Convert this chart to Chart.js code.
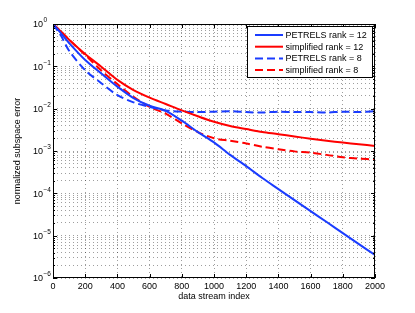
<!DOCTYPE html>
<html><head><meta charset="utf-8">
<script src="https://cdn.jsdelivr.net/npm/chart.js@4/dist/chart.umd.min.js"></script>
<style>html,body{margin:0;padding:0;background:#fff;overflow:hidden}#wrap{width:415px;height:313px;position:relative}</style>
</head><body><div id="wrap"><canvas id="c" width="415" height="313"></canvas></div>
<script>
// ---- data ----
const dataIndex = [0,50,100,200,300,400,500,600,700,800,900,1000,1100,1200,1300,1400,1500,1600,1700,1800,1900,2000];
const petrelsRank12 = [1,0.60,0.355,0.141,0.0676,0.0331,0.0178,0.0117,8.9e-3,5.2e-3,2.8e-3,1.6e-3,8.1e-4,4.4e-4,2.3e-4,1.26e-4,6.9e-5,3.8e-5,2.1e-5,1.15e-5,6.3e-6,3.5e-6];
const simplifiedRank12 = [1,0.66,0.427,0.195,0.0977,0.0479,0.0275,0.0182,0.0129,9.1e-3,6.6e-3,4.9e-3,3.9e-3,3.3e-3,2.8e-3,2.5e-3,2.2e-3,1.95e-3,1.74e-3,1.58e-3,1.45e-3,1.32e-3];
const petrelsRank8 = [1,0.525,0.234,0.081,0.040,0.0209,0.0141,0.011,9.1e-3,8.5e-3,8.3e-3,8.5e-3,8.7e-3,8.3e-3,8.1e-3,8.5e-3,8.3e-3,8.3e-3,8.1e-3,8.5e-3,8.3e-3,8.7e-3];
const simplifiedRank8 = [1,0.66,0.427,0.186,0.0794,0.038,0.019,0.011,7.6e-3,4.5e-3,2.8e-3,2.0e-3,1.74e-3,1.51e-3,1.26e-3,1.10e-3,9.8e-4,9.1e-4,8.1e-4,7.1e-4,6.6e-4,6.3e-4];
const seriesLabels = ['PETRELS rank = 12','simplified rank = 12','PETRELS rank = 8','simplified rank = 8'];
const xTickValues = [0,200,400,600,800,1000,1200,1400,1600,1800,2000];
const yDecadeExponents = [-6,-5,-4,-3,-2,-1,0];
const xTitle = 'data stream index';
const yTitle = 'normalized subspace error';

const FONT = '"Liberation Sans", Arial, Helvetica, sans-serif';
const BLUE = '#1a3cff', RED = '#ff0000';
const styles = [
  {color: BLUE, dash: []},
  {color: RED, dash: []},
  {color: BLUE, dash: [8,4]},
  {color: RED, dash: [8,4]}
];
const seriesValues = [petrelsRank12, simplifiedRank12, petrelsRank8, simplifiedRank8];

const datasets = seriesValues.map((vals, i) => ({
  label: seriesLabels[i],
  data: dataIndex.map((x, j) => ({x: x, y: vals[j]})),
  borderColor: styles[i].color,
  borderDash: styles[i].dash,
  borderWidth: 2,
  pointRadius: 0,
  tension: 0.3,
  fill: false
}));

// y gridline values: 1..9 x 10^d for each decade
const yGridValues = [];
yDecadeExponents.forEach(d => {
  if (d === 0) { yGridValues.push(1); return; }
  for (let m = 1; m <= 9; m++) yGridValues.push(parseFloat((m * Math.pow(10, d)).toPrecision(3)));
});

const decor = {
  id: 'decor',
  afterDraw(chart) {
    const ctx = chart.ctx, a = chart.chartArea;
    const xs = chart.scales.x, ys = chart.scales.y;
    ctx.save();
    // box
    ctx.strokeStyle = '#000'; ctx.lineWidth = 1; ctx.setLineDash([]);
    ctx.strokeRect(Math.round(a.left)+0.5, Math.round(a.top)+0.5, Math.round(a.right-a.left)-1, Math.round(a.bottom-a.top)-1);
    // inward ticks
    ctx.beginPath();
    xTickValues.forEach(v => {
      const px = Math.round(xs.getPixelForValue(v)) + 0.5;
      ctx.moveTo(px, a.bottom); ctx.lineTo(px, a.bottom - 4);
      ctx.moveTo(px, a.top); ctx.lineTo(px, a.top + 4);
    });
    yGridValues.forEach(v => {
      const py = Math.round(ys.getPixelForValue(v)) + 0.5;
      const major = Math.abs(Math.log10(v) - Math.round(Math.log10(v))) < 1e-6;
      const len = major ? 4 : 2;
      ctx.moveTo(a.left, py); ctx.lineTo(a.left + len, py);
      ctx.moveTo(a.right, py); ctx.lineTo(a.right - len, py);
    });
    ctx.stroke();
    // y tick labels 10^d
    ctx.fillStyle = '#000';
    yDecadeExponents.forEach(d => {
      const py = ys.getPixelForValue(Math.pow(10, d));
      ctx.font = '9px ' + FONT; ctx.textAlign = 'right'; ctx.textBaseline = 'middle';
      ctx.fillText('10', 43, py + 1);
      ctx.font = '6.5px ' + FONT; ctx.textAlign = 'left';
      ctx.fillText(d === 0 ? '0' : '\u2212' + Math.abs(d), 43.5, py - 3.5);
    });
    // axis titles
    ctx.font = '9px ' + FONT; ctx.textAlign = 'center'; ctx.textBaseline = 'middle';
    ctx.fillText(xTitle, (a.left + a.right) / 2, 297);
    ctx.save();
    ctx.translate(18, (a.top + a.bottom) / 2);
    ctx.rotate(-Math.PI / 2);
    ctx.fillText(yTitle, 0, 0);
    ctx.restore();
    // legend
    const lx = 247, ly = 26, lw = 125, lh = 51;
    ctx.fillStyle = '#fff'; ctx.fillRect(lx, ly, lw, lh);
    ctx.strokeStyle = '#000'; ctx.lineWidth = 1; ctx.strokeRect(lx + 0.5, ly + 0.5, lw, lh);
    seriesLabels.forEach((lab, i) => {
      const y = 35 + i * 11.7;
      ctx.strokeStyle = styles[i].color; ctx.lineWidth = 2; ctx.setLineDash(styles[i].dash);
      ctx.beginPath(); ctx.moveTo(255, y); ctx.lineTo(283, y); ctx.stroke();
      ctx.setLineDash([]);
      ctx.fillStyle = '#000'; ctx.font = '9px ' + FONT; ctx.textAlign = 'left'; ctx.textBaseline = 'middle';
      ctx.fillText(lab, 285.5, y + 0.5);
    });
    ctx.restore();
  }
};

new Chart(document.getElementById('c'), {
  type: 'line',
  data: {datasets},
  options: {
    responsive: false,
    animation: false,
    devicePixelRatio: 1,
    layout: {padding: {top: 24, right: 40, left: 0, bottom: 0}},
    plugins: {legend: {display: false}, tooltip: {enabled: false}},
    scales: {
      x: {
        type: 'linear', min: 0, max: 2000,
        afterBuildTicks: ax => { ax.ticks = xTickValues.map(v => ({value: v})); },
        afterFit: ax => { ax.height = 35; },
        ticks: {font: {family: FONT, size: 9}, color: '#000', padding: 3, maxRotation: 0, autoSkip: false,
                callback: v => String(v)},
        grid: {color: 'rgba(0,0,0,0.38)', drawTicks: false, lineWidth: 1},
        border: {display: false, dash: [1, 3]}
      },
      y: {
        type: 'logarithmic', min: 1e-6, max: 1,
        afterBuildTicks: ax => { ax.ticks = yGridValues.map(v => ({value: v})); },
        afterFit: ax => { ax.width = 53; },
        ticks: {display: false},
        grid: {color: 'rgba(0,0,0,0.38)', drawTicks: false, lineWidth: 1},
        border: {display: false, dash: [1, 3]}
      }
    }
  },
  plugins: [decor]
});
</script>
</body></html>
